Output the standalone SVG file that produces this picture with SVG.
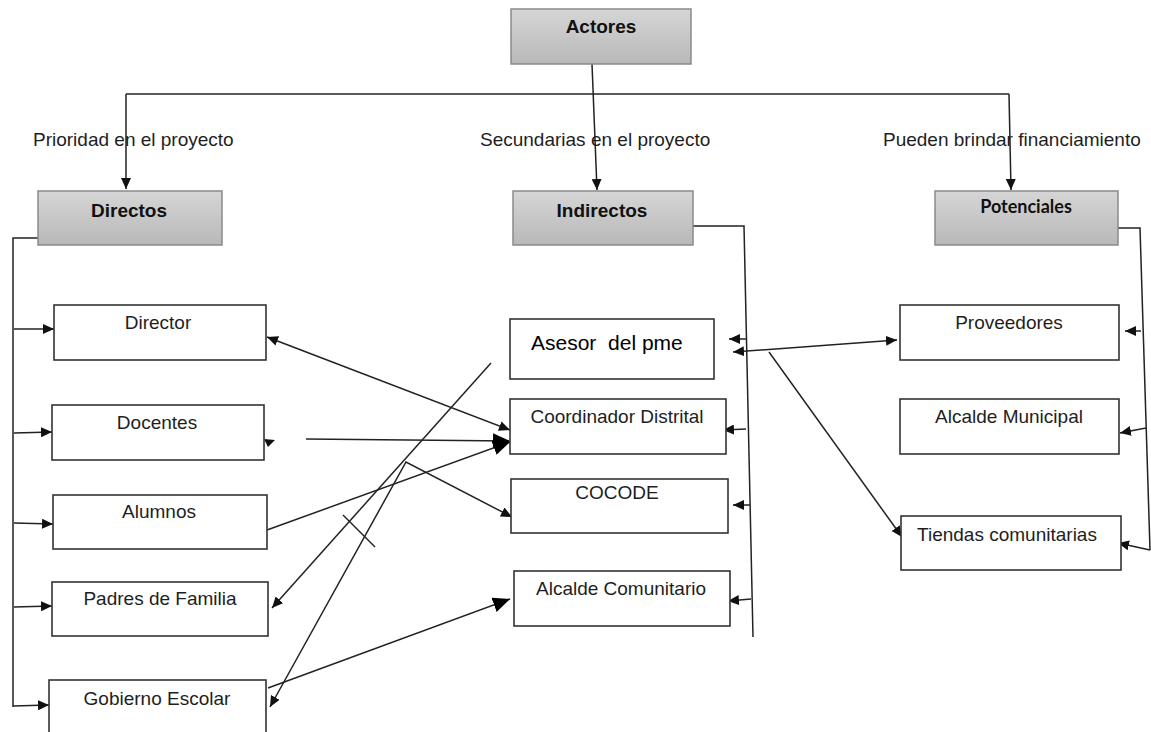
<svg xmlns="http://www.w3.org/2000/svg" width="1151" height="732" viewBox="0 0 1151 732">
<style>
text{font-family:"Liberation Sans",Arial,sans-serif;font-size:19px;fill:#1e1e1e;text-anchor:middle}
.hd{font-weight:bold;fill:#111}
.hbox{fill:url(#g);stroke:#8a8a8a;stroke-width:1.5}
.box{fill:#fff;stroke:#333;stroke-width:1.6}
.ln{fill:none;stroke:#222;stroke-width:1.5}
.lab{text-anchor:start}
</style>
<defs>
<linearGradient id="g" x1="0" y1="0" x2="0" y2="1">
<stop offset="0" stop-color="#d6d6d6"/>
<stop offset="1" stop-color="#b8b8b8"/>
</linearGradient>
<marker id="a" markerUnits="userSpaceOnUse" markerWidth="11" markerHeight="10" refX="11" refY="5" orient="auto-start-reverse" viewBox="0 0 11 10">
<path d="M0,0 L11,5 L0,10 z" fill="#111"/>
</marker>
<marker id="b" markerUnits="userSpaceOnUse" markerWidth="17" markerHeight="15" refX="17" refY="7.5" orient="auto" viewBox="0 0 17 15">
<path d="M0,0 L17,7.5 L0,15 z" fill="#000"/>
</marker>
</defs>
<rect width="1151" height="732" fill="#fff"/>

<g id="connectors">
<path class="ln" d="M126,94 L1009,94"/>
<path class="ln" d="M592,64 L597,190" marker-end="url(#a)"/>
<path class="ln" d="M126,94 L126,189" marker-end="url(#a)"/>
<path class="ln" d="M1009,94 L1011,190" marker-end="url(#a)"/>
<path class="ln" d="M38,238 L13,238 L13,707"/>
<path class="ln" d="M14,329 L54,329" marker-end="url(#a)"/>
<path class="ln" d="M14,433 L52,432" marker-end="url(#a)"/>
<path class="ln" d="M14,523 L53,524" marker-end="url(#a)"/>
<path class="ln" d="M14,607 L52,606" marker-end="url(#a)"/>
<path class="ln" d="M13,706 L49,705" marker-end="url(#a)"/>
<path class="ln" d="M693,226 L744,226 L753,637"/>
<path class="ln" d="M747,339 L729,339" marker-end="url(#a)"/>
<path class="ln" d="M746,429 L723,430" marker-end="url(#a)"/>
<path class="ln" d="M750,505 L733,505" marker-end="url(#a)"/>
<path class="ln" d="M751,599 L728,601" marker-end="url(#a)"/>
<path class="ln" d="M1118,228 L1140,228 L1150,550"/>
<path class="ln" d="M1141,331 L1125,331" marker-end="url(#a)"/>
<path class="ln" d="M1146,428 L1120,433" marker-end="url(#a)"/>
<path class="ln" d="M1150,550 L1118,543" marker-end="url(#a)"/>
<path class="ln" d="M267,337 L510,430" marker-start="url(#a)" marker-end="url(#a)"/>
<path class="ln" d="M306,439 L510,441" marker-end="url(#b)"/>
<path class="ln" d="M267,530 L510,442" marker-end="url(#b)"/>
<path class="ln" d="M268,688 L510,599" marker-end="url(#b)"/>
<path class="ln" d="M491,363 L272,608" marker-end="url(#a)"/>
<path class="ln" d="M512,517 L406,462 L270,707" marker-start="url(#a)" marker-end="url(#a)"/>
<path class="ln" d="M343,515 L375,547"/>
<polygon points="264,439 275,440 268,447" fill="#111"/>
<path class="ln" d="M733,352 L897,340" marker-start="url(#a)" marker-end="url(#a)"/>
<path class="ln" d="M769,352 L902,537" marker-end="url(#a)"/>
</g>

<g id="actores"><rect class="hbox" x="511" y="9" width="180" height="55"/><text class="hd" x="601" y="33" font-size="20">Actores</text></g>
<g id="lab-prioridad"><text class="lab" x="33" y="146">Prioridad en el proyecto</text></g>
<g id="lab-secundarias"><text class="lab" x="480" y="146">Secundarias en el proyecto</text></g>
<g id="lab-pueden"><text class="lab" x="883" y="146">Pueden brindar financiamiento</text></g>

<g id="directos"><rect class="hbox" x="38" y="191" width="184" height="54"/><text class="hd" x="129" y="217">Directos</text></g>
<g id="indirectos"><rect class="hbox" x="513" y="191" width="180" height="54"/><text class="hd" x="602" y="217">Indirectos</text></g>
<g id="potenciales"><rect class="hbox" x="935" y="191" width="183" height="54"/><text class="hd" x="1026" y="213" style="font-family:Lato,'Liberation Sans',sans-serif;font-size:18px">Potenciales</text></g>

<g id="director"><rect class="box" x="54" y="305" width="212" height="55"/><text x="158" y="329">Director</text></g>
<g id="docentes"><rect class="box" x="52" y="405" width="212" height="55"/><text x="157" y="429">Docentes</text></g>
<g id="alumnos"><rect class="box" x="53" y="495" width="214" height="54"/><text x="159" y="518">Alumnos</text></g>
<g id="padres"><rect class="box" x="52" y="582" width="216" height="54"/><text x="160" y="605">Padres de Familia</text></g>
<g id="gobierno"><rect class="box" x="49" y="680" width="217" height="70"/><text x="157" y="705">Gobierno Escolar</text></g>

<g id="asesor"><rect class="box" x="510" y="319" width="204" height="60"/><text class="lab" x="531" y="350" style="font-size:21px;fill:#000;white-space:pre">Asesor  del pme</text></g>
<g id="coordinador"><rect class="box" x="510" y="399" width="216" height="55"/><text x="617" y="423">Coordinador Distrital</text></g>
<g id="cocode"><rect class="box" x="511" y="479" width="217" height="54"/><text x="617" y="499">COCODE</text></g>
<g id="alcalde-comunitario"><rect class="box" x="514" y="571" width="216" height="55"/><text x="621" y="595">Alcalde Comunitario</text></g>

<g id="proveedores"><rect class="box" x="900" y="305" width="219" height="55"/><text x="1009" y="329">Proveedores</text></g>
<g id="alcalde-municipal"><rect class="box" x="900" y="399" width="219" height="55"/><text x="1009" y="423">Alcalde Municipal</text></g>
<g id="tiendas"><rect class="box" x="901" y="516" width="220" height="54"/><text x="1007" y="541">Tiendas comunitarias</text></g>
</svg>
